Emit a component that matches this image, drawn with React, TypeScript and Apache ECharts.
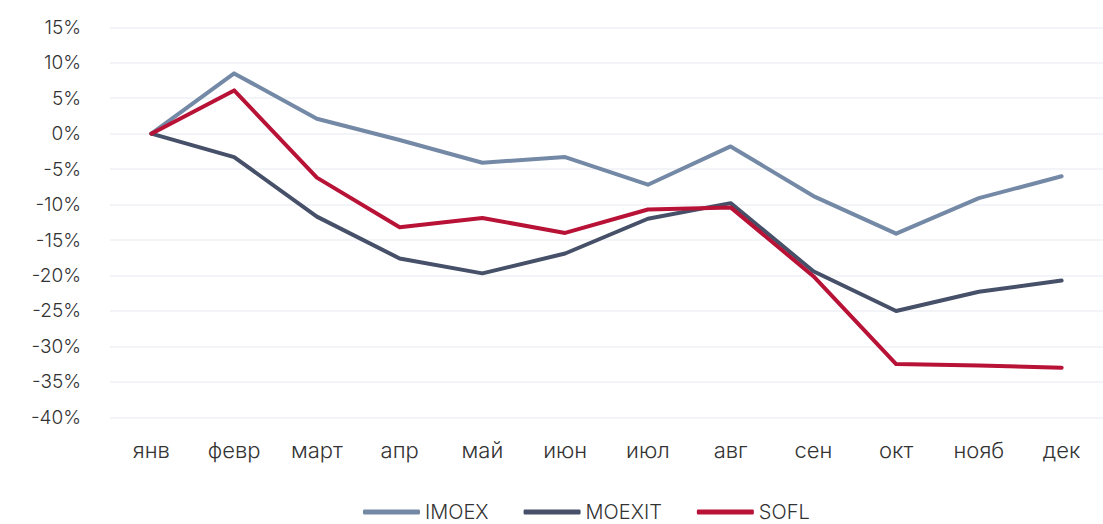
import React, { useEffect, useRef } from "react";
import * as echarts from "echarts";

const months = ["янв", "февр", "март", "апр", "май", "июн", "июл", "авг", "сен", "окт", "нояб", "дек"];
const imoex = [0, 8.5, 2.1, -0.9, -4.1, -3.3, -7.2, -1.8, -8.8, -14.1, -9.1, -6.0];
const moexit = [0, -3.3, -11.7, -17.6, -19.7, -16.9, -12.0, -9.8, -19.4, -25.0, -22.3, -20.7];
const sofl = [0, 6.1, -6.2, -13.2, -11.9, -14.0, -10.7, -10.4, -20.1, -32.5, -32.7, -33.0];

const FONT = "Inter, 'Noto Sans', sans-serif";

export default function App() {
  const ref = useRef<HTMLDivElement>(null);
  useEffect(() => {
    if (!ref.current) return;
    const chart = echarts.init(ref.current, undefined, { renderer: "svg" });
    const mk = (name: string, data: number[], color: string) => ({
      name,
      type: "line",
      data,
      symbol: "none",
      lineStyle: { color, width: 4, cap: "round", join: "round" },
      itemStyle: { color },
    });
    chart.setOption({
      animation: false,
      backgroundColor: "#ffffff",
      textStyle: { fontFamily: FONT },
      grid: { left: 110, top: 27.3, width: 1013.4, height: 390, containLabel: false },
      legend: {
        left: 363,
        top: 501,
        padding: 0,
        itemWidth: 57,
        itemHeight: 5,
        itemGap: 35,
        icon: "roundRect",
        textStyle: { fontFamily: FONT, fontSize: 20, fontWeight: 300, color: "#333333", padding: [0, 0, 0, 0], lineHeight: 22 },
        data: ["IMOEX", "MOEXIT", "SOFL"],
      },
      xAxis: {
        type: "category",
        data: months,
        boundaryGap: true,
        axisLine: { show: false },
        axisTick: { show: false },
        axisLabel: { fontFamily: FONT, fontSize: 22, fontWeight: 300, color: "#333333", margin: 22 },
      },
      yAxis: {
        type: "value",
        min: -40,
        max: 15,
        interval: 5,
        axisLine: { show: false },
        axisTick: { show: false },
        axisLabel: { fontFamily: FONT, fontSize: 19, fontWeight: 300, color: "#333333", margin: 29, formatter: "{value}%" },
        splitLine: { lineStyle: { color: "#eff0f5", width: 1.5 } },
      },
      series: [
        mk("IMOEX", imoex, "#7489a6"),
        mk("MOEXIT", moexit, "#465068"),
        mk("SOFL", sofl, "#b81237"),
      ],
    });
    return () => chart.dispose();
  }, []);
  return <div ref={ref} style={{ position: "fixed", left: 0, top: 0, width: 1103, height: 524 }} />;
}
